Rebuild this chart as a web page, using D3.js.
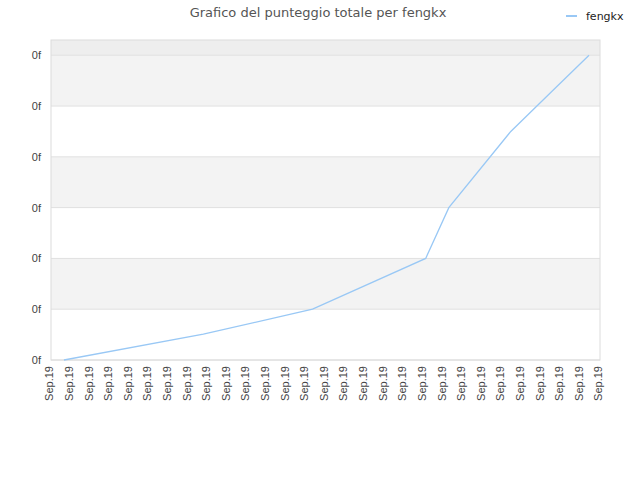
<!DOCTYPE html>
<html lang="it">
<head>
<meta charset="UTF-8">
<title>Grafico del punteggio totale per fengkx</title>
<script src="https://d3js.org/d3.v7.min.js"></script>
<style>
  body { margin: 0; background: #fff; font-family: "DejaVu Sans", Verdana, sans-serif; }
  .title { font-size: 13px; fill: #555; }
  .tick text { font-size: 11px; fill: #444; }
  .legend-text { font-size: 11px; fill: #222; }
</style>
</head>
<body>
<svg width="640" height="480"></svg>
<script>
// time position of each point, in axis-tick units (29 ticks, all labelled "Sep.19")
const pointTimes = [0.66, 7.77, 13.34, 19.11, 20.29, 23.45, 25.5, 27.44];
const scores     = [0, 0.51, 1.0, 2.0, 3.0, 4.5, 5.27, 6.0];
const xTicks = d3.range(0, 29);
const xTickLabel = "Sep.19";
const yTicks = [0, 1, 2, 3, 4, 5, 6];
const yTickLabel = "0f";
const seriesName = "fengkx";

const margin = {top: 40, right: 40, bottom: 120, left: 51};
const width = 640 - margin.left - margin.right,
      height = 480 - margin.top - margin.bottom;

const svg = d3.select("svg");
const g = svg.append("g").attr("transform", `translate(${margin.left},${margin.top})`);

const x = d3.scaleLinear().domain([0, 28]).range([0, width]);
const y = d3.scaleLinear().domain([0, 6.3]).range([height, 0]);

// background bands
g.append("rect").attr("width", width).attr("height", height).attr("fill", "#fff");
g.append("rect").attr("y", 0).attr("width", width).attr("height", y(6))
  .attr("fill", "#eeeeee");
g.selectAll("rect.band")
  .data(yTicks.slice(0, -1).filter(d => d % 2 === 0))
  .enter().append("rect").attr("class", "band")
  .attr("x", 0)
  .attr("y", d => y(d + 2))
  .attr("width", width)
  .attr("height", d => y(d + 1) - y(d + 2))
  .attr("fill", "#f3f3f3");

// grid lines
g.selectAll("line.grid")
  .data(yTicks)
  .enter().append("line").attr("class", "grid")
  .attr("x1", 0).attr("x2", width)
  .attr("y1", d => y(d)).attr("y2", d => y(d))
  .attr("stroke", "#e0e0e0");

// frame
g.append("rect").attr("width", width).attr("height", height)
  .attr("fill", "none").attr("stroke", "#dcdcdc");

// y axis
const yAxis = g.append("g")
  .call(d3.axisLeft(y).tickValues(yTicks).tickFormat(() => yTickLabel).tickSize(0).tickPadding(10));
yAxis.select(".domain").remove();

// x axis
const xAxis = g.append("g")
  .attr("transform", `translate(0,${height})`)
  .call(d3.axisBottom(x).tickValues(xTicks).tickFormat(() => xTickLabel).tickSize(0));
xAxis.select(".domain").remove();
xAxis.selectAll("text")
  .attr("transform", "rotate(-90)")
  .attr("text-anchor", "end")
  .attr("x", -6)
  .attr("y", 0)
  .attr("dy", "0.17em");

// line
const line = d3.line().x((d, i) => x(pointTimes[i])).y(d => y(d));
g.append("path")
  .datum(scores)
  .attr("fill", "none")
  .attr("stroke", "#99c8f5")
  .attr("stroke-width", 1.3)
  .attr("d", line);

// title
svg.append("text").attr("class", "title")
  .attr("x", 318).attr("y", 17)
  .attr("text-anchor", "middle")
  .text("Grafico del punteggio totale per fengkx");

// legend
svg.append("line")
  .attr("x1", 566).attr("x2", 577).attr("y1", 16).attr("y2", 16)
  .attr("stroke", "#99c8f5").attr("stroke-width", 2);
svg.append("text").attr("class", "legend-text")
  .attr("x", 586).attr("y", 20)
  .text(seriesName);
</script>
</body>
</html>
